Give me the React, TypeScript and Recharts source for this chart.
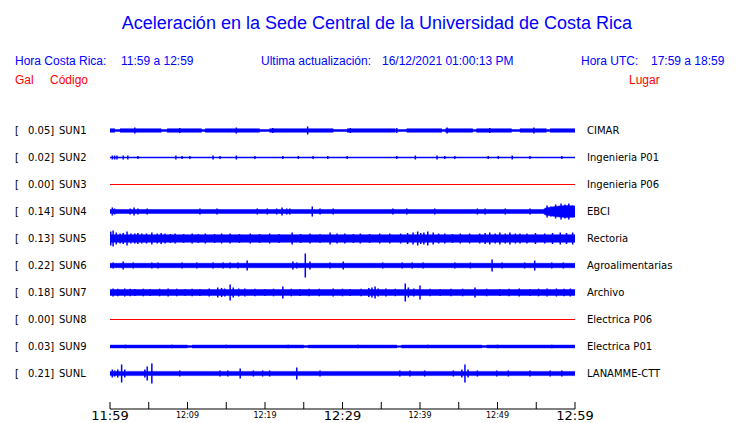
import React from 'react';
import { ComposedChart, XAxis, YAxis, Area, Line, Scatter, ErrorBar } from 'recharts';

// ---- axis data (minutes after 11:59) ----
const tickMinutes = [0, 5, 10, 15, 20, 25, 30, 35, 40, 45, 50, 55, 60];
const tickLabels = ['11:59', '', '12:09', '', '12:19', '', '12:29', '', '12:39', '', '12:49', '', '12:59'];
const majorLabels = ['11:59', '12:29', '12:59'];

// ---- stations ----
const codes = ['SUN1', 'SUN2', 'SUN3', 'SUN4', 'SUN5', 'SUN6', 'SUN7', 'SUN8', 'SUN9', 'SUNL'];
const places = ['CIMAR', 'Ingenieria P01', 'Ingenieria P06', 'EBCI', 'Rectoria', 'Agroalimentarias', 'Archivo', 'Electrica P06', 'Electrica P01', 'LANAMME-CTT'];
const peaks = ['0.05', '0.02', '0.00', '0.14', '0.13', '0.22', '0.18', '0.00', '0.03', '0.21'];
const alive = [true, true, false, true, true, true, true, false, true, true];

// ---- background envelopes [minute, half amplitude] ----
const sun1Env = [[0, 1.8], [0.6, 1.8], [0.65, 1.0], [1.25, 1.0], [1.3, 1.8], [6.6, 1.8], [6.65, 1.0], [7.35, 1.0], [7.4, 1.8], [11.8, 1.8], [11.85, 1.0], [12.25, 1.0], [12.3, 1.8], [19.3, 1.8], [19.35, 1.0], [20.55, 1.0], [20.6, 1.8], [28.8, 1.8], [28.85, 1.0], [30.55, 1.0], [30.6, 1.8], [36.8, 1.8], [36.85, 1.0], [38.25, 1.0], [38.3, 1.8], [42.8, 1.8], [42.85, 1.0], [43.25, 1.0], [43.3, 1.8], [46.8, 1.8], [46.85, 1.0], [47.25, 1.0], [47.3, 1.8], [51.8, 1.8], [51.85, 1.0], [52.85, 1.0], [52.9, 1.8], [56.3, 1.8], [56.35, 1.0], [56.75, 1.0], [56.8, 1.8], [60, 1.8]];
const sun2Env = [[0, 0.5], [60, 0.5]];
const sun4Env = [[0, 2], [55.9, 2], [56.2, 3.5], [57, 4.5], [58, 5.5], [59, 6], [60, 5.5]];
const sun5Env = [[0, 3.8], [60, 3.8]];
const sun6Env = [[0, 2.2], [60, 2.2]];
const sun7Env = [[0, 2.9], [60, 2.9]];
const sun9Env = [[0, 1.4], [10, 1.4], [10.05, 0.9], [10.55, 0.9], [10.6, 1.4], [25, 1.4], [25.05, 0.9], [25.55, 0.9], [25.6, 1.4], [37, 1.4], [37.05, 0.8], [37.55, 0.8], [37.6, 1.4], [48, 1.4], [48.05, 0.9], [48.55, 0.9], [48.6, 1.4], [60, 1.4]];
const sunLEnv = [[0, 2.1], [60, 2.1]];

// ---- spikes [minute, half amplitude] ----
const sun1Spikes = [[3.2, 3], [9.0, 2.5], [16.3, 3], [21.0, 2.5], [25.5, 4], [31.0, 2.5], [37.0, 2.5], [43.5, 3], [49.0, 2.5], [54.7, 3]];
const sun2Spikes = [[0.3, 2], [0.6, 2], [0.9, 2], [1.7, 2], [2.3, 2], [3.6, 1.5], [8.5, 2], [9.3, 1.5], [10.3, 1.5], [13.3, 2], [14.2, 1.5], [16.3, 2], [18.7, 1.5], [22.3, 1.5], [24.3, 1.5], [26.2, 1.5], [28.1, 1.5], [30.6, 1.5], [37.0, 1.5], [39.4, 2], [42.2, 2], [43.2, 1.5], [44.5, 1.5], [48.8, 1.5], [50.1, 1.5], [51.9, 2], [54.2, 1.5], [58.3, 1.5]];
const sun4Spikes = [[0.3, 4], [0.6, 3], [2.6, 3], [3.1, 4], [3.6, 3], [4.8, 3], [11.6, 3], [13.8, 3], [19.0, 3], [20.3, 3], [21.5, 3], [22.2, 4], [22.8, 3], [23.2, 3], [26.1, 5], [27.1, 3], [28.8, 3], [36.5, 3], [38.3, 3], [41.9, 3], [47.4, 3], [48.4, 3], [51.0, 3], [54.2, 3], [56.4, 6], [56.9, 5], [57.5, 7], [58.2, 8], [58.7, 7], [59.2, 8], [59.7, 6]];
const sun5Spikes = [[0.1, 7], [0.4, 8], [0.8, 6], [1.3, 5], [1.7, 5.5], [2.2, 7], [2.7, 5], [3.2, 5], [3.6, 5.5], [4.1, 5], [4.7, 5], [5.4, 6], [6.1, 5], [6.6, 5.5], [7.1, 5], [7.8, 4.5], [8.4, 5], [9.5, 4.5], [10.6, 5], [11.4, 4.5], [12.3, 5], [13.5, 4.5], [14.4, 5], [15.5, 5], [16.7, 4.5], [18.1, 5], [19.3, 4.5], [20.6, 5], [21.8, 4.5], [23.5, 6], [24.6, 4.5], [25.8, 5], [27.1, 4.5], [28.4, 6], [29.3, 5], [30.3, 5], [31.4, 4.5], [32.3, 5], [33.5, 4.5], [34.8, 5], [36.1, 5], [37.5, 5], [38.4, 5.5], [39.1, 6], [39.7, 7], [40.1, 5.5], [40.5, 6], [41.0, 7], [41.7, 6], [42.4, 5], [43.2, 5], [44.2, 4.5], [45.2, 5], [46.4, 5], [47.7, 5], [48.4, 5.5], [49.0, 6], [49.7, 5], [50.3, 6], [51.0, 5], [51.6, 6], [52.3, 5], [52.9, 5], [53.8, 5], [54.9, 5.5], [56.1, 5], [57.1, 5.5], [58.1, 6], [58.9, 5.5], [59.7, 6]];
const sun6Spikes = [[0.4, 3], [1.7, 4], [3.0, 3], [5.4, 3], [6.2, 3], [9.3, 3], [11.2, 3], [13.3, 3], [14.6, 3], [15.5, 3], [16.5, 3], [17.7, 5], [23.6, 4], [24.1, 3], [25.2, 12], [25.8, 4], [28.4, 3], [30.1, 4], [35.2, 3], [37.7, 3], [39.0, 3], [40.4, 3], [44.5, 3], [46.5, 3], [49.3, 6], [50.6, 3], [53.5, 3], [54.8, 5], [57.0, 3], [58.5, 3]];
const sun7Spikes = [[0.4, 4], [1.0, 3.8], [1.9, 4], [2.6, 3.8], [3.2, 3.5], [4.3, 3.8], [5.2, 3.5], [6.4, 3.8], [7.5, 4], [8.6, 3.8], [9.7, 3.5], [10.6, 3.8], [11.6, 3.5], [12.8, 4], [13.9, 5], [14.4, 4.5], [14.8, 4], [15.5, 8], [15.9, 5], [16.6, 4], [17.4, 4], [18.7, 3.8], [20.0, 3.5], [21.1, 3.8], [22.3, 6], [23.4, 3.8], [24.5, 3.5], [25.7, 3.8], [27.0, 3.8], [28.8, 4], [30.0, 3.8], [31.0, 3.5], [32.4, 3.8], [33.4, 4.5], [33.8, 5], [34.2, 6], [34.6, 4], [35.6, 4], [36.8, 3.8], [38.1, 9], [38.5, 5], [39.2, 4], [40.0, 7], [41.3, 3.8], [42.6, 3.5], [44.0, 3.8], [45.5, 3.8], [47.1, 5], [48.6, 3.8], [50.3, 3.5], [51.5, 3.8], [52.8, 4], [54.2, 3.5], [55.3, 3.8], [56.4, 4], [57.6, 4], [58.6, 3.8], [59.4, 4]];
const sun9Spikes = [[2.0, 1.8], [8.0, 1.8], [15.0, 1.8], [23.0, 1.8], [32.0, 1.8], [41.0, 1.8], [50.0, 1.8], [57.0, 1.8]];
const sunLSpikes = [[0.3, 4], [0.6, 3], [1.0, 4], [1.5, 9], [1.9, 4], [4.5, 4], [4.8, 7], [5.4, 10], [9.0, 3], [14.2, 3], [15.2, 3], [16.8, 5], [18.5, 3], [19.7, 3], [20.6, 3], [24.1, 6], [27.1, 3], [37.4, 3], [38.7, 3], [40.6, 3], [44.3, 3], [45.4, 4], [45.8, 9], [46.2, 4], [47.4, 3], [49.9, 3], [51.4, 3], [54.2, 3], [56.8, 3], [58.3, 3]];

const envelopes = [sun1Env, sun2Env, null, sun4Env, sun5Env, sun6Env, sun7Env, null, sun9Env, sunLEnv];
const spikes = [sun1Spikes, sun2Spikes, null, sun4Spikes, sun5Spikes, sun6Spikes, sun7Spikes, null, sun9Spikes, sunLSpikes];

const BLUE = '#0000ff';
const RED = '#ff0000';
const W = 740;
const H = 423;
const PLOT_TOP = 116;
const PLOT_BOTTOM = 409;
const ROW0 = 130.5;
const ROW_GAP = 27;
const Y_SPAN = PLOT_BOTTOM - PLOT_TOP;

const baseOf = (i: number) => PLOT_BOTTOM - (ROW0 + ROW_GAP * i);

const TimeTick = (props: any) => {
  const { x, y, index } = props;
  const label = tickLabels[index] || '';
  const major = majorLabels.includes(label);
  return (
    <g>
      <line x1={x} y1={y - 7} x2={x} y2={y} stroke="#000" strokeWidth={1} />
      {label ? (
        <text
          x={x}
          y={major ? y + 11 : y + 9}
          textAnchor="middle"
          fontFamily="DejaVu Sans"
          fontSize={major ? 13 : 8}
          fill="#000"
        >
          {label}
        </text>
      ) : null}
    </g>
  );
};

const NoDot = () => <g />;

export default function App() {
  return (
    <div style={{ position: 'fixed', left: 0, top: 0, width: W, height: H, background: '#fff' }}>
      <svg width={W} height={H} style={{ position: 'absolute', left: 0, top: 0 }}>
        <text x={377} y={29} textAnchor="middle" fontFamily="Liberation Sans" fontSize={18} fill={BLUE}>
          Aceleración en la Sede Central de la Universidad de Costa Rica
        </text>
        <g fontFamily="Liberation Sans" fontSize={12} fill={BLUE}>
          <text x={15} y={65}>Hora Costa Rica:</text>
          <text x={121} y={65}>11:59 a 12:59</text>
          <text x={261} y={65}>Ultima actualización:</text>
          <text x={382} y={65}>16/12/2021 01:00:13 PM</text>
          <text x={581} y={65}>Hora UTC:</text>
          <text x={651} y={65}>17:59 a 18:59</text>
        </g>
        <g fontFamily="Liberation Sans" fontSize={12} fill={RED}>
          <text x={15} y={84}>Gal</text>
          <text x={50} y={84}>Código</text>
          <text x={629} y={84}>Lugar</text>
        </g>
        <g fontFamily="DejaVu Sans" fontSize={10} fill="#000">
          {codes.map((c, i) => (
            <g key={c}>
              <text x={15} y={134 + ROW_GAP * i}>[</text>
              <text x={28} y={134 + ROW_GAP * i}>{peaks[i] + ']'}</text>
              <text x={59} y={134 + ROW_GAP * i}>{c}</text>
              <text x={587} y={134 + ROW_GAP * i}>{places[i]}</text>
            </g>
          ))}
        </g>
      </svg>
      <div style={{ position: 'absolute', left: 0, top: 0 }}>
        <ComposedChart width={W} height={H} margin={{ top: PLOT_TOP, right: W - 575, bottom: 0, left: 110 }}>
          <XAxis
            dataKey="t"
            type="number"
            domain={[0, 60]}
            ticks={tickMinutes}
            interval={0}
            height={H - PLOT_BOTTOM}
            tickSize={0}
            tickMargin={0}
            tickLine={false}
            axisLine={{ stroke: '#000', strokeWidth: 1 }}
            tick={<TimeTick />}
            allowDataOverflow
          />
          <YAxis type="number" domain={[0, Y_SPAN]} hide allowDataOverflow />
          {codes.map((c, i) => {
            const base = baseOf(i);
            if (!alive[i]) {
              return (
                <Line
                  key={c + 'dead'}
                  data={[{ t: 0, v: base }, { t: 60, v: base }]}
                  dataKey="v"
                  stroke={RED}
                  strokeWidth={1}
                  dot={false}
                  activeDot={false}
                  isAnimationActive={false}
                />
              );
            }
            return null;
          })}
          {codes.map((c, i) => {
            const env = envelopes[i];
            if (!env) return null;
            const base = baseOf(i);
            const d = env.map(([t, a]) => ({ t, r: [base - a, base + a] }));
            return (
              <Area
                key={c + 'env'}
                data={d}
                dataKey="r"
                type="linear"
                stroke={BLUE}
                strokeWidth={0.5}
                fill={BLUE}
                fillOpacity={1}
                dot={false}
                activeDot={false}
                isAnimationActive={false}
              />
            );
          })}
          {codes.map((c, i) => {
            const sp = spikes[i];
            if (!sp) return null;
            const base = baseOf(i);
            const d = sp.map(([t, a]) => ({ t, v: base, e: a }));
            return (
              <Scatter key={c + 'sp'} data={d} dataKey="v" shape={NoDot} isAnimationActive={false}>
                <ErrorBar dataKey="e" direction="y" width={0} stroke={BLUE} strokeWidth={1.5} isAnimationActive={false} />
              </Scatter>
            );
          })}
        </ComposedChart>
      </div>
    </div>
  );
}
